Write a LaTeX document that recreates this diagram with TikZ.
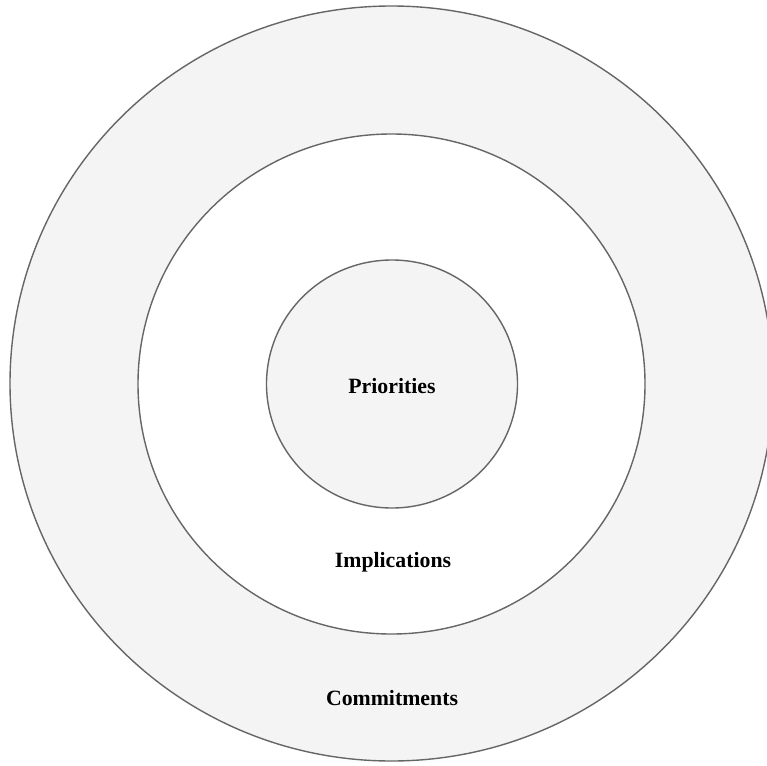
\documentclass[tikz,border=0pt]{standalone}
\usepackage{fontspec}
\setmainfont{Liberation Serif}
\begin{document}
\begin{tikzpicture}[x=1pt,y=-1pt,
  ring/.style={draw=black!60, line width=1.4pt},
  lbl/.style={font=\bfseries\fontsize{21.8}{26}\selectfont, text=black}]
\clip (0,0) rectangle (767,765);
\useasboundingbox (0,0) rectangle (767,765);
\fill[white] (0,0) rectangle (767,765);
\draw[ring, fill={rgb,255:red,244;green,244;blue,244}] (391.5,383.5) ellipse [x radius=381.5, y radius=377.5];
\draw[ring, fill=white] (391.5,384) ellipse [x radius=253.5, y radius=250];
\draw[ring, fill={rgb,255:red,244;green,244;blue,244}] (392,384) ellipse [x radius=125.5, y radius=124];
\node[lbl] (pri) at (392,386) {Priorities};
\node[lbl] (imp) at (393,562) {Implications};
\node[lbl] (com) at (392,698) {Commitments};
\end{tikzpicture}
\end{document}
